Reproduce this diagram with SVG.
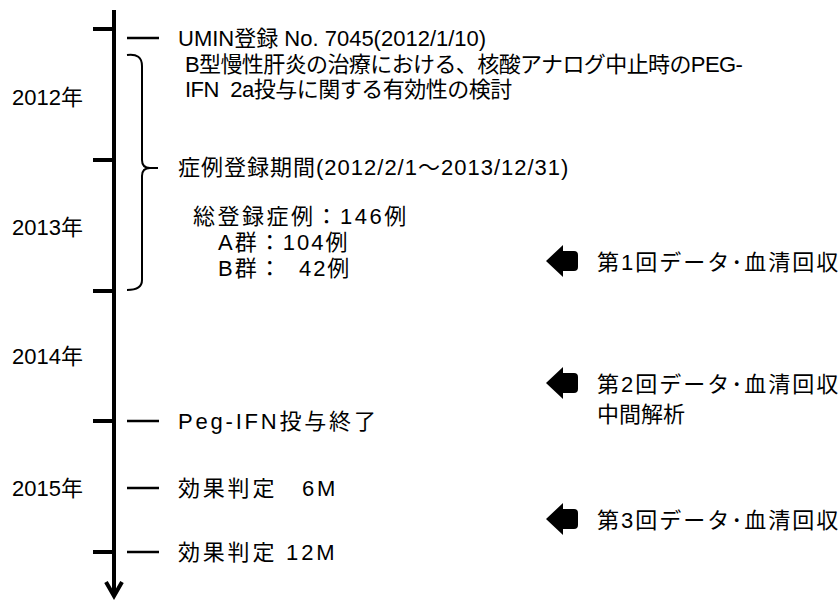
<svg xmlns="http://www.w3.org/2000/svg" width="840" height="600" viewBox="0 0 840 600">
<style>
text{font-family:"Liberation Sans","Noto Sans CJK JP",sans-serif;font-size:22px;fill:#000}
.ls1{letter-spacing:1px}
.ls2{letter-spacing:2px}
.ls25{letter-spacing:2.5px}
.ls28{letter-spacing:2.8px}
.tight{letter-spacing:-0.6px}
.tight2{letter-spacing:-0.5px}
.axis{stroke:#000;stroke-width:4;fill:none}
.tick{stroke:#000;stroke-width:4;fill:none}
.dash{stroke:#000;stroke-width:2.5;fill:none}
.brace{stroke:#000;stroke-width:2;fill:none}
.blk{fill:#000}
</style>
<rect width="840" height="600" fill="#fff"/>
<g id="connectors">
<path class="axis" d="M114,10 L114,596"/>
<path class="axis" d="M106,582 L114,596 L122,582" stroke-linejoin="miter"/>
<path class="tick" d="M93,29 H114 M93,160 H114 M93,291 H114 M93,421 H114 M93,552 H114"/>
<path class="dash" d="M127,38 H159 M127,421 H159 M127,488 H159 M127,552 H159"/>
<path class="brace" d="M127,55 Q142,53 142,66 L142,160 Q142,168 150,168 L158,168 M150,168 Q142,168 142,176 L142,280 Q142,290 127,290"/>
</g>
<g id="years">
<text x="12" y="105">2012年</text>
<text x="12" y="235">2013年</text>
<text x="12" y="364">2014年</text>
<text x="12" y="496">2015年</text>
</g>
<g id="umin">
<text x="178" y="46">UMIN登録 No. 7045(2012/1/10)</text>
<text x="185" y="72" class="tight">B型慢性肝炎の治療における、核酸アナログ中止時のPEG-</text>
<text x="185" y="97" class="tight2" xml:space="preserve">IFN  2a投与に関する有効性の検討</text>
</g>
<g id="registration">
<text x="178" y="175" class="ls1">症例登録期間(2012/2/1～2013/12/31)</text>
<text x="193" y="224" class="ls25">総登録症例：146例</text>
<text x="218" y="250" class="ls2">A群：104例</text>
<text x="218" y="276" class="ls2" xml:space="preserve">B群：  42例</text>
</g>
<g id="peg-end"><text x="178" y="429" class="ls28">Peg-IFN投与終了</text></g>
<g id="eval6"><text x="178" y="496" class="ls28" xml:space="preserve">効果判定　6M</text></g>
<g id="eval12"><text x="178" y="560" class="ls28">効果判定 12M</text></g>
<g id="collect1">
<path class="blk" d="M546,261 L563,245 L563,251 L574,251 Q578,251 578,255 L578,267 Q578,271 574,271 L563,271 L563,277 Z"/>
<text x="597" y="270" class="ls2">第1回データ･血清回収</text>
</g>
<g id="collect2">
<path class="blk" d="M546,383 L563,367 L563,373 L574,373 Q578,373 578,377 L578,389 Q578,393 574,393 L563,393 L563,399 Z"/>
<text x="597" y="392" class="ls2">第2回データ･血清回収</text>
<text x="597" y="422">中間解析</text>
</g>
<g id="collect3">
<path class="blk" d="M546,519 L563,503 L563,509 L574,509 Q578,509 578,513 L578,525 Q578,529 574,529 L563,529 L563,535 Z"/>
<text x="597" y="528" class="ls2">第3回データ･血清回収</text>
</g>
</svg>
